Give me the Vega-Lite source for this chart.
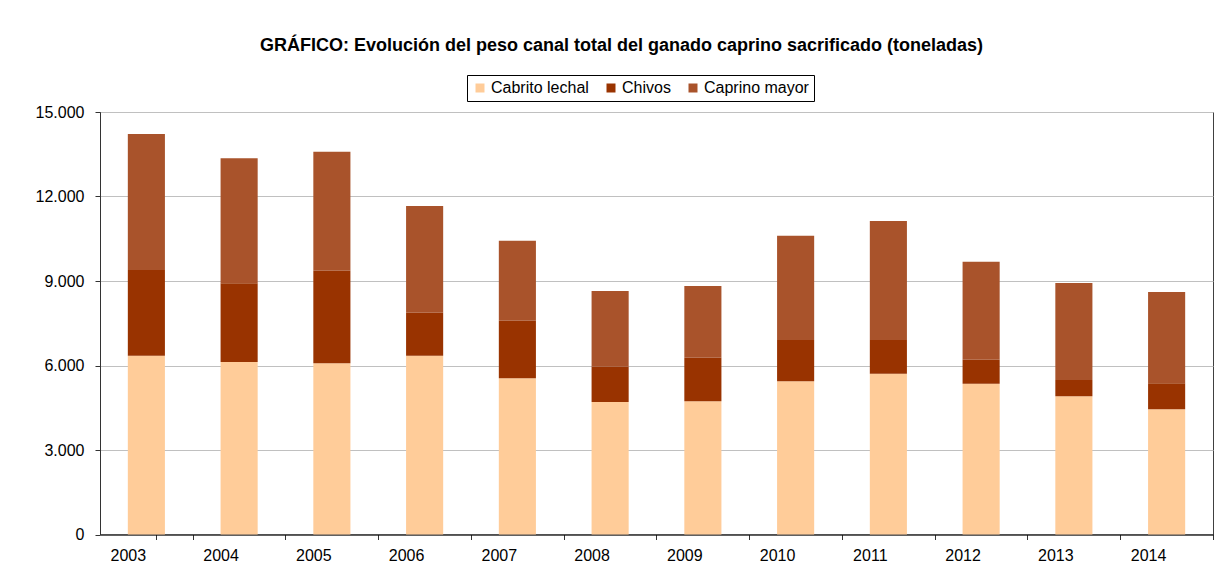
{
  "$schema": "https://vega.github.io/schema/vega-lite/v6.json",
  "width": 1113,
  "height": 422.5,
  "autosize": {"type": "none"},
  "padding": {"left": 100, "top": 112, "right": 15, "bottom": 38.5},
  "background": "white",
  "title": {
    "text": "GRÁFICO: Evolución del peso canal total del ganado caprino sacrificado (toneladas)",
    "font": "Liberation Sans",
    "fontSize": 18,
    "fontWeight": "bold",
    "color": "black",
    "anchor": "middle",
    "frame": "group",
    "dx": -35,
    "offset": 20
  },
  "data": {
    "values": [
      {"year": "2003", "tipo": "Cabrito lechal", "valor": 6347},
      {"year": "2003", "tipo": "Chivos", "valor": 3043},
      {"year": "2003", "tipo": "Caprino mayor", "valor": 4828},
      {"year": "2004", "tipo": "Cabrito lechal", "valor": 6124},
      {"year": "2004", "tipo": "Chivos", "valor": 2793},
      {"year": "2004", "tipo": "Caprino mayor", "valor": 4438},
      {"year": "2005", "tipo": "Cabrito lechal", "valor": 6077},
      {"year": "2005", "tipo": "Chivos", "valor": 3288},
      {"year": "2005", "tipo": "Caprino mayor", "valor": 4225},
      {"year": "2006", "tipo": "Cabrito lechal", "valor": 6347},
      {"year": "2006", "tipo": "Chivos", "valor": 1527},
      {"year": "2006", "tipo": "Caprino mayor", "valor": 3788},
      {"year": "2007", "tipo": "Cabrito lechal", "valor": 5545},
      {"year": "2007", "tipo": "Chivos", "valor": 2045},
      {"year": "2007", "tipo": "Caprino mayor", "valor": 2840},
      {"year": "2008", "tipo": "Cabrito lechal", "valor": 4704},
      {"year": "2008", "tipo": "Chivos", "valor": 1253},
      {"year": "2008", "tipo": "Caprino mayor", "valor": 2687},
      {"year": "2009", "tipo": "Cabrito lechal", "valor": 4729},
      {"year": "2009", "tipo": "Chivos", "valor": 1547},
      {"year": "2009", "tipo": "Caprino mayor", "valor": 2546},
      {"year": "2010", "tipo": "Cabrito lechal", "valor": 5439},
      {"year": "2010", "tipo": "Chivos", "valor": 1466},
      {"year": "2010", "tipo": "Caprino mayor", "valor": 3702},
      {"year": "2011", "tipo": "Cabrito lechal", "valor": 5709},
      {"year": "2011", "tipo": "Chivos", "valor": 1196},
      {"year": "2011", "tipo": "Caprino mayor", "valor": 4224},
      {"year": "2012", "tipo": "Cabrito lechal", "valor": 5353},
      {"year": "2012", "tipo": "Chivos", "valor": 852},
      {"year": "2012", "tipo": "Caprino mayor", "valor": 3480},
      {"year": "2013", "tipo": "Cabrito lechal", "valor": 4906},
      {"year": "2013", "tipo": "Chivos", "valor": 579},
      {"year": "2013", "tipo": "Caprino mayor", "valor": 3443},
      {"year": "2014", "tipo": "Cabrito lechal", "valor": 4445},
      {"year": "2014", "tipo": "Chivos", "valor": 923},
      {"year": "2014", "tipo": "Caprino mayor", "valor": 3241}
    ]
  },
  "transform": [
    {"calculate": "indexof(['Cabrito lechal', 'Chivos', 'Caprino mayor'], datum.tipo)", "as": "orden"}
  ],
  "mark": {"type": "bar"},
  "encoding": {
    "x": {
      "field": "year",
      "type": "nominal",
      "title": null,
      "scale": {"paddingInner": 0.6, "paddingOuter": 0.3},
      "axis": {
        "labelAngle": 0,
        "bandPosition": 1,
        "tickOffset": 27.8,
        "labelOffset": -46.35,
        "tickExtra": true,
        "tickSize": 5,
        "labelPadding": 8,
        "domainColor": "black",
        "tickColor": "#333333",
        "grid": false
      }
    },
    "y": {
      "field": "valor",
      "type": "quantitative",
      "stack": "zero",
      "title": null,
      "scale": {"domain": [0, 15000], "nice": false},
      "axis": {
        "values": [0, 3000, 6000, 9000, 12000, 15000],
        "labelExpr": "replace(format(datum.value, ','), ',', '.')",
        "tickSize": 5,
        "labelPadding": 11,
        "domainColor": "#333333",
        "tickColor": "#333333",
        "gridColor": "#c0c0c0",
        "grid": true
      }
    },
    "order": {"field": "orden", "type": "quantitative", "sort": "ascending"},
    "color": {
      "field": "tipo",
      "type": "nominal",
      "scale": {
        "domain": ["Cabrito lechal", "Chivos", "Caprino mayor"],
        "range": ["#FFCC99", "#993300", "#A9532B"]
      },
      "legend": {
        "title": null,
        "orient": "none",
        "legendX": 367,
        "legendY": -37,
        "direction": "horizontal",
        "columns": 3,
        "symbolType": "square",
        "symbolSize": 81,
        "symbolStrokeWidth": 0,
        "labelFont": "Liberation Sans",
        "labelFontSize": 16,
        "labelColor": "black",
        "labelOffset": 3,
        "columnPadding": 14,
        "strokeColor": "black",
        "fillColor": "white",
        "padding": 5
      }
    }
  },
  "config": {
    "view": {"stroke": "#404040", "strokeWidth": 1},
    "axis": {
      "labelFont": "Liberation Sans",
      "labelFontSize": 16,
      "labelColor": "black"
    }
  }
}
